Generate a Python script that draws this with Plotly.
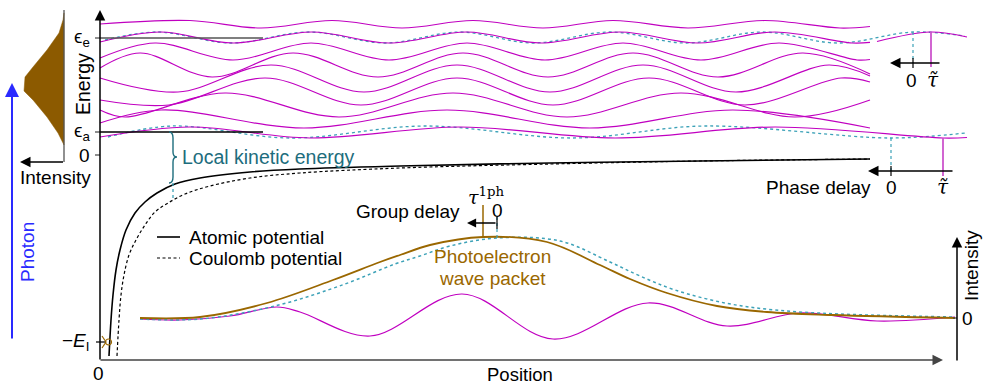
import plotly.graph_objects as go

# ---------------- data (x = position, y = energy/intensity, screen units) ----
atomic_x = [109, 111, 113, 116, 120, 126, 135, 145, 157, 175, 200, 250, 300, 400, 550, 700, 870]
atomic_y = [356, 320, 295, 270, 250, 230, 213, 202, 193, 184, 178, 172, 169, 166, 163, 161, 159]
coulomb_x = [117, 119, 121, 124, 129, 136, 145, 155, 168, 185, 210, 250, 300, 400, 550, 700, 870]
coulomb_y = [356, 320, 295, 275, 255, 240, 225, 212, 203, 194, 186, 178, 173, 168, 164, 161, 159]

# spectrum (left intensity panel)
spec_x = [64, 63, 59, 47, 33, 25, 24, 33, 47, 58, 64, 64]
spec_y = [13, 20, 33, 50, 67, 77, 91, 100, 117, 133, 145, 13]

# partial waves (atomic potential), top to bottom
wave_A_x = [100, 190, 261, 332, 402, 473, 543, 613, 688, 765, 840, 870]
wave_A_y = [24, 20.5, 28, 20.5, 28, 20.5, 28, 20.5, 28, 20.5, 28, 26.5]
wave_B_x = [100, 160, 233, 312, 389, 467, 541, 620, 698, 775, 852, 870]
wave_B_y = [42, 32, 43, 32, 43, 32, 43, 32, 43, 32, 43, 42.3]
wave_B_tail_x = [877, 930, 967]
wave_B_tail_y = [41.5, 32, 37]
wave_C_x = [100, 155, 233, 311, 389, 467, 545, 623, 701, 779, 857, 870]
wave_C_y = [58, 43, 60, 43, 60, 43, 60, 43, 60, 43, 60, 59.5]
wave_D_x = [100, 140, 212, 293, 378, 463, 548, 633, 718, 803, 870]
wave_D_y = [68, 53, 77, 53, 77, 53, 77, 53, 77, 53, 74]
wave_E_x = [100, 178, 271, 364, 457, 550, 643, 736, 829, 870]
wave_E_y = [78, 92, 65, 92, 65, 92, 65, 92, 65, 76]
wave_F_x = [100, 169, 265, 361, 457, 553, 649, 745, 841, 870]
wave_F_y = [100, 105, 78, 105, 78, 105, 78, 105, 78, 82]
wave_G_x = [100, 125, 225, 339, 453, 567, 681, 795, 870]
wave_G_y = [110, 117, 93, 117, 93, 117, 93, 117, 100]
wave_H_x = [100, 161, 304, 447, 590, 733, 870]
wave_H_y = [123, 110, 128, 110, 128, 110, 128]
wave_I_x = [100, 190, 310, 460, 615, 775, 943, 967]
wave_I_y = [137, 127, 138, 127, 138, 127, 138, 137.5]

# same waves in the Coulomb potential
coul_B_x = [105, 157, 231, 309, 385, 460, 533, 610, 686, 762, 838, 913, 965]
coul_B_y = [40, 32, 43, 32, 43, 32, 43, 32, 43, 32, 43, 32, 36]
coul_I_x = [108, 172, 290, 425, 573, 705, 891, 965]
coul_I_y = [137, 126, 138, 126, 138, 126, 138, 133]

# photoelectron wave packet
env_x = [140, 200, 267, 333, 380, 400, 430, 483, 547, 600, 630, 667, 717, 767, 833, 955]
env_y = [318, 317, 303, 280, 262, 255, 245, 237, 242, 265, 279, 293, 306, 312, 315, 318]
coul_env_x = [140, 200, 275, 345, 395, 420, 450, 497, 560, 610, 640, 675, 725, 775, 840, 955]
coul_env_y = [319, 319, 306, 284, 264, 256, 246, 238, 241, 262, 276, 290, 303, 310, 314, 317]
pkt_x = [140, 180, 230, 277, 300, 370, 462, 553, 648, 727, 800, 877, 955]
pkt_y = [319, 320, 316, 307, 312, 336, 294, 339, 303, 326, 313, 321, 317]

# energy levels / tick positions
lvl_eps_e, lvl_eps_a, lvl_zero, lvl_EI = 38, 132, 155, 342
lvl_end = 263
axis_x0, axis_y0, axis_ytop, axis_xend = 100, 360, 10, 943
int_axis_x, int_axis_top, int_zero = 957, 237, 318

MAG = '#c000c0'
TEALD = '#3da2b8'
TEALT = '#1d6d7d'
BROWN = '#9a6700'
BROWNF = '#8c5a00'
BLUE = '#2a2aff'
FONT = 'Liberation Sans, Arial, sans-serif'
SERIF = 'DejaVu Serif, Liberation Serif, serif'
SHORTDASH = '3px,2.5px'

fig = go.Figure()


def line(x, y, color, width=1.3, dash='solid', shape='spline'):
    fig.add_trace(go.Scatter(x=x, y=y, mode='lines', hoverinfo='skip',
                             line=dict(color=color, width=width, dash=dash, shape=shape,
                                       smoothing=1.0)))


# spectrum fill
fig.add_trace(go.Scatter(x=spec_x, y=spec_y, mode='lines', fill='toself', fillcolor=BROWNF,
                         line=dict(color=BROWNF, width=0.5), hoverinfo='skip'))

# waves
for wx, wy in [(wave_A_x, wave_A_y), (wave_C_x, wave_C_y), (wave_D_x, wave_D_y),
               (wave_E_x, wave_E_y), (wave_F_x, wave_F_y), (wave_G_x, wave_G_y),
               (wave_H_x, wave_H_y)]:
    line(wx, wy, MAG, 1.2)
line(coul_B_x, coul_B_y, TEALD, 1.3, 'dot')
line(coul_I_x, coul_I_y, TEALD, 1.3, 'dot')
line(wave_B_x, wave_B_y, MAG, 1.2)
line(wave_B_tail_x, wave_B_tail_y, MAG, 1.2)
line(wave_I_x, wave_I_y, MAG, 1.2)

# potentials
line(coulomb_x, coulomb_y, 'black', 1.2, SHORTDASH)
line(atomic_x, atomic_y, 'black', 1.6)

# wave packet
line(pkt_x, pkt_y, MAG, 1.2)
line(coul_env_x, coul_env_y, TEALD, 1.5, 'dot')
line(env_x, env_y, BROWN, 1.8)


def seg(x0, y0, x1, y1, color='black', width=1.3, dash='solid'):
    fig.add_shape(type='line', x0=x0, y0=y0, x1=x1, y1=y1, xref='x', yref='y',
                  line=dict(color=color, width=width, dash=dash))


def arrow(xt, yt, xs, ys, color='black', width=1.5):
    fig.add_annotation(x=xt, y=yt, ax=xs, ay=ys, xref='x', yref='y', axref='x', ayref='y',
                       text='', showarrow=True, arrowhead=2, arrowsize=1.4,
                       arrowwidth=width, arrowcolor=color, standoff=0)


def txt(x, y, s, size=19, color='black', xa='center', ya='middle', angle=0, family=FONT):
    fig.add_annotation(x=x, y=y, xref='x', yref='y', text=s, showarrow=False,
                       xanchor=xa, yanchor=ya, textangle=angle,
                       font=dict(family=family, size=size, color=color))


# level lines
seg(axis_x0, lvl_eps_e, lvl_end, lvl_eps_e, '#555555', 1.3)
seg(axis_x0, lvl_eps_a, lvl_end, lvl_eps_a, 'black', 1.3)
for yy in (lvl_eps_e, lvl_eps_a, lvl_zero):
    seg(axis_x0 - 5, yy, axis_x0, yy, '#444444', 1.2)
seg(axis_x0 - 4, lvl_EI, axis_x0 + 6, lvl_EI, 'black', 1.2)
# ionisation marker
seg(axis_x0 + 2, lvl_EI - 6, axis_x0 + 6, lvl_EI, BROWN, 1.2)
seg(axis_x0 + 2, lvl_EI + 6, axis_x0 + 6, lvl_EI, BROWN, 1.2)
fig.add_trace(go.Scatter(x=[axis_x0 + 8.5], y=[lvl_EI], mode='markers', hoverinfo='skip',
                         marker=dict(symbol='circle-open', size=6, color=BROWN,
                                     line=dict(width=1.2, color=BROWN))))

# axes
arrow(axis_x0, axis_ytop, axis_x0, axis_y0 + 1, 'black', 1.5)
arrow(axis_xend, axis_y0, axis_x0 - 1, axis_y0, '#444444', 1.5)
arrow(int_axis_x, int_axis_top, int_axis_x, axis_y0 + 2, 'black', 1.5)
seg(int_axis_x - 4, int_zero, int_axis_x, int_zero, '#444444', 1.2)

# left spectrum axis + photon arrow
seg(64, 10, 64, 162, '#555555', 1.3)
arrow(20, 162, 64.5, 162, 'black', 1.5)
arrow(12, 83, 12, 340, BLUE, 2)

# brace for local kinetic energy
bx, bt, bb, bm = 173, 132, 183, 157
fig.add_shape(type='path', xref='x', yref='y', line=dict(color=TEALT, width=1.4),
              path=(f'M {bx-4},{bt} Q {bx},{bt} {bx},{bt+6} L {bx},{bm-5} '
                    f'Q {bx},{bm} {bx+4},{bm} Q {bx},{bm} {bx},{bm+5} '
                    f'L {bx},{bb-6} Q {bx},{bb} {bx-4},{bb}'))
seg(bx, bb, bx, 200, TEALD, 1.3, 'dot')

# phase delay markers (upper)
seg(913, 32, 913, 63, TEALD, 1.2, 'dot')
seg(931, 32, 931, 67, '#cc55cc', 1.8)
arrow(890, 63, 941, 63, 'black', 1.5)
seg(913, 58, 913, 68, 'black', 1.2)
txt(911, 80, '0', 19)
txt(933, 80, '<i>τ̃</i>', 20, family=SERIF)
# phase delay markers (lower)
seg(891, 138, 891, 171, TEALD, 1.2, 'dot')
seg(943, 138, 943, 176, '#cc55cc', 1.8)
arrow(868, 171, 954, 171, 'black', 1.5)
seg(891, 166, 891, 176, 'black', 1.2)
txt(873, 187, 'Phase delay', 19, xa='right')
txt(891, 187, '0', 19)
txt(943, 187, '<i>τ̃</i>', 20, family=SERIF)

# group delay markers
seg(483, 205, 483, 237, BROWN, 1.5)
seg(497, 217, 497, 238, TEALD, 1.2, 'dot')
arrow(467, 223, 497, 223, 'black', 1.3)
seg(497, 217, 497, 229, 'black', 1.2)
txt(497, 210, '0', 19)
txt(486, 196, '<i>τ</i><sup>1ph</sup>', 19, family=SERIF)
txt(462, 211, 'Group delay', 19, xa='right')

# legend (manual)
seg(157, 237, 180, 237, 'black', 1.6)
seg(157, 258, 180, 258, 'black', 1.2, SHORTDASH)
txt(187, 237, 'Atomic potential', 19, xa='left')
txt(187, 258, 'Coulomb potential', 19, xa='left')

# labels
txt(180, 157, 'Local kinetic energy', 19.5, TEALT, xa='left')
txt(492, 256, 'Photoelectron', 19, BROWN)
txt(492, 278, 'wave packet', 19, BROWN)
txt(83, 84, 'Energy', 19.5, angle=-90)
txt(27, 252, 'Photon', 19, BLUE, angle=-90)
txt(55, 177, 'Intensity', 19)
txt(971, 266, 'Intensity', 19, angle=-90)
txt(520, 374, 'Position', 18.5)
txt(98, 373, '0', 19)
txt(967, 318, '0', 19)
txt(92, 38, 'ϵ<sub>e</sub>', 19, xa='right')
txt(92, 132, 'ϵ<sub>a</sub>', 19, xa='right')
txt(92, 155, '0', 19, xa='right')
txt(92, 342, '−<i>E</i><sub>I</sub>', 19, xa='right')

fig.update_layout(width=991, height=384, margin=dict(l=0, r=0, t=0, b=0),
                  paper_bgcolor='white', plot_bgcolor='white', showlegend=False,
                  xaxis=dict(range=[0, 991], visible=False, fixedrange=True),
                  yaxis=dict(range=[384, 0], visible=False, fixedrange=True))
fig.write_html('out.html', config={'displayModeBar': False},
               post_script="document.body.style.margin='0';document.body.style.overflow='hidden';")
